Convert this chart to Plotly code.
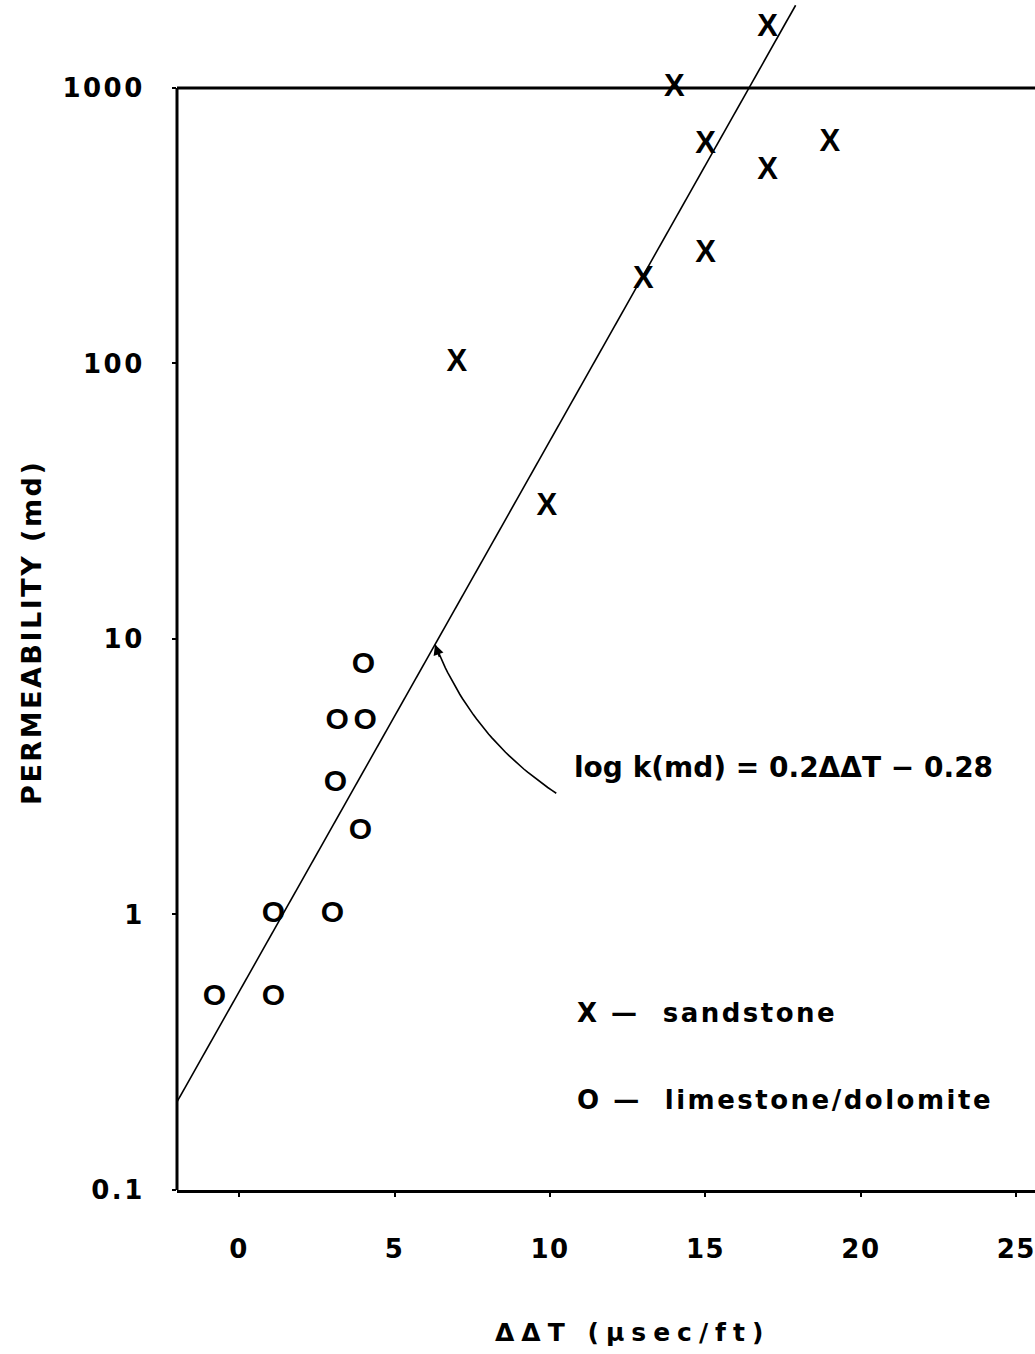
import numpy as np
import plotly.graph_objects as go

# ---------------- data ----------------
sand_dt = [7, 9.9, 13, 14, 15, 15, 17, 17, 19]
sand_k = [100, 30, 200, 1000, 620, 250, 500, 1650, 630]

lime_dt = [-0.8, 1.1, 1.1, 3.0, 3.1, 3.15, 4.05, 4.0, 3.9]
lime_k = [0.5, 0.5, 1, 1, 3, 5, 5, 8, 2]

fit_slope = 0.2
fit_intercept = -0.28
fit_dt_ends = [-2, 17.9]

x_tick_vals = [0, 5, 10, 15, 20, 25]
x_tick_labels = ["0", "5", "10", "15", "20", "25"]
y_tick_vals = [0.1, 1, 10, 100, 1000]
y_tick_labels = ["0.1", "1", "10", "100", "1000"]

x_title = "ΔΔT (μsec/ft)"
y_title = "PERMEABILITY (md)"
equation_label = "log k(md) = 0.2ΔΔT − 0.28"
legend_labels = ["X —  sandstone", "O —  limestone/dolomite"]
sand_symbol = "X"
lime_symbol = "O"

# ---------------- styling helpers ----------------
FONT = "DejaVu Sans"


def spaced(txt, px):
    return f'<span style="letter-spacing:{px}px">{txt}</span>'


fit_k = [10 ** (fit_slope * x + fit_intercept) for x in fit_dt_ends]

# curved arrow from the equation text to the fitted line
tip_dt = 6.3
tip_log = fit_slope * tip_dt + fit_intercept
ctrl = (7.5, 0.64)
tail = (10.2, 0.44)
t = np.linspace(0, 1, 40)
curve_dt = (1 - t) ** 2 * tip_dt + 2 * (1 - t) * t * ctrl[0] + t ** 2 * tail[0]
curve_log = (1 - t) ** 2 * tip_log + 2 * (1 - t) * t * ctrl[1] + t ** 2 * tail[1]
curve_k = 10 ** curve_log

fig = go.Figure()

fig.add_trace(go.Scatter(
    x=fit_dt_ends, y=fit_k, mode="lines",
    line=dict(color="black", width=1.6), hoverinfo="skip", name="fit"))

fig.add_trace(go.Scatter(
    x=curve_dt, y=curve_k, mode="lines",
    line=dict(color="black", width=1.6), hoverinfo="skip", name="arrow"))

fig.add_trace(go.Scatter(
    x=sand_dt, y=sand_k, mode="text", text=[sand_symbol] * len(sand_dt),
    textposition="middle center",
    textfont=dict(family="Liberation Sans", size=31, color="black", weight="bold"),
    name="sandstone", cliponaxis=False))

fig.add_trace(go.Scatter(
    x=lime_dt, y=lime_k, mode="text", text=[lime_symbol] * len(lime_dt),
    textposition="middle center",
    textfont=dict(family="Liberation Sans", size=30, color="black", weight="bold"),
    name="limestone/dolomite", cliponaxis=False))

# frame lines (left and top at 1000)
fig.add_shape(type="line", xref="paper", yref="y", x0=0, x1=0,
              y0=y_tick_vals[0], y1=y_tick_vals[-1],
              line=dict(color="black", width=3))
fig.add_shape(type="line", xref="paper", yref="y", x0=0, x1=1,
              y0=y_tick_vals[-1], y1=y_tick_vals[-1],
              line=dict(color="black", width=3))

# arrowhead
fig.add_annotation(x=tip_dt, y=tip_log, xref="x", yref="y", text="",
                   showarrow=True, arrowhead=2, arrowsize=1.3, arrowwidth=1.6,
                   arrowcolor="black", ax=5, ay=14)

# equation
fig.add_annotation(x=10.7, y=0.532, xref="x", yref="y",
                   text=equation_label, showarrow=False,
                   xanchor="left", yanchor="middle",
                   font=dict(family=FONT, size=28, color="black", weight="bold"))

# legend text
fig.add_annotation(x=10.8, y=-0.358, xref="x", yref="y",
                   text=spaced(legend_labels[0], 2.5), showarrow=False,
                   xanchor="left", yanchor="middle",
                   font=dict(family=FONT, size=26, color="black", weight="bold"))
fig.add_annotation(x=10.8, y=-0.673, xref="x", yref="y",
                   text=spaced(legend_labels[1], 2.5), showarrow=False,
                   xanchor="left", yanchor="middle",
                   font=dict(family=FONT, size=26, color="black", weight="bold"))

# axis titles
fig.add_annotation(x=0.531, y=-0.12, xref="paper", yref="paper",
                   text=spaced(x_title, 7), showarrow=False,
                   xanchor="center", yanchor="middle",
                   font=dict(family=FONT, size=25, color="black", weight="bold"))
fig.add_annotation(x=-0.169, y=0.469, xref="paper", yref="paper",
                   text=spaced(y_title, 2.5), showarrow=False, textangle=-90,
                   xanchor="center", yanchor="middle",
                   font=dict(family=FONT, size=27, color="black", weight="bold"))

fig.update_layout(
    width=1035, height=1354,
    margin=dict(l=177, r=0, t=0, b=164),
    paper_bgcolor="white", plot_bgcolor="white",
    showlegend=False,
    xaxis=dict(
        range=[-2, 25.6], tickvals=x_tick_vals,
        ticktext=[spaced(s, 1.5) for s in x_tick_labels],
        ticks="outside", ticklen=4, tickwidth=2, tickcolor="black",
        showline=True, linewidth=3, linecolor="black",
        showgrid=False, zeroline=False, ticklabelstandoff=30,
        ticklabeloverflow="allow",
        tickfont=dict(family=FONT, size=26, color="black", weight="bold")),
    yaxis=dict(
        type="log", range=[-1, 3.319], tickvals=y_tick_vals,
        ticktext=[spaced(s, 2.5) for s in y_tick_labels],
        ticks="outside", ticklen=4, tickwidth=2, tickcolor="black",
        showline=False, showgrid=False, zeroline=False, ticklabelstandoff=22,
        tickfont=dict(family=FONT, size=26, color="black", weight="bold")),
)

fig.write_html("out.html")
